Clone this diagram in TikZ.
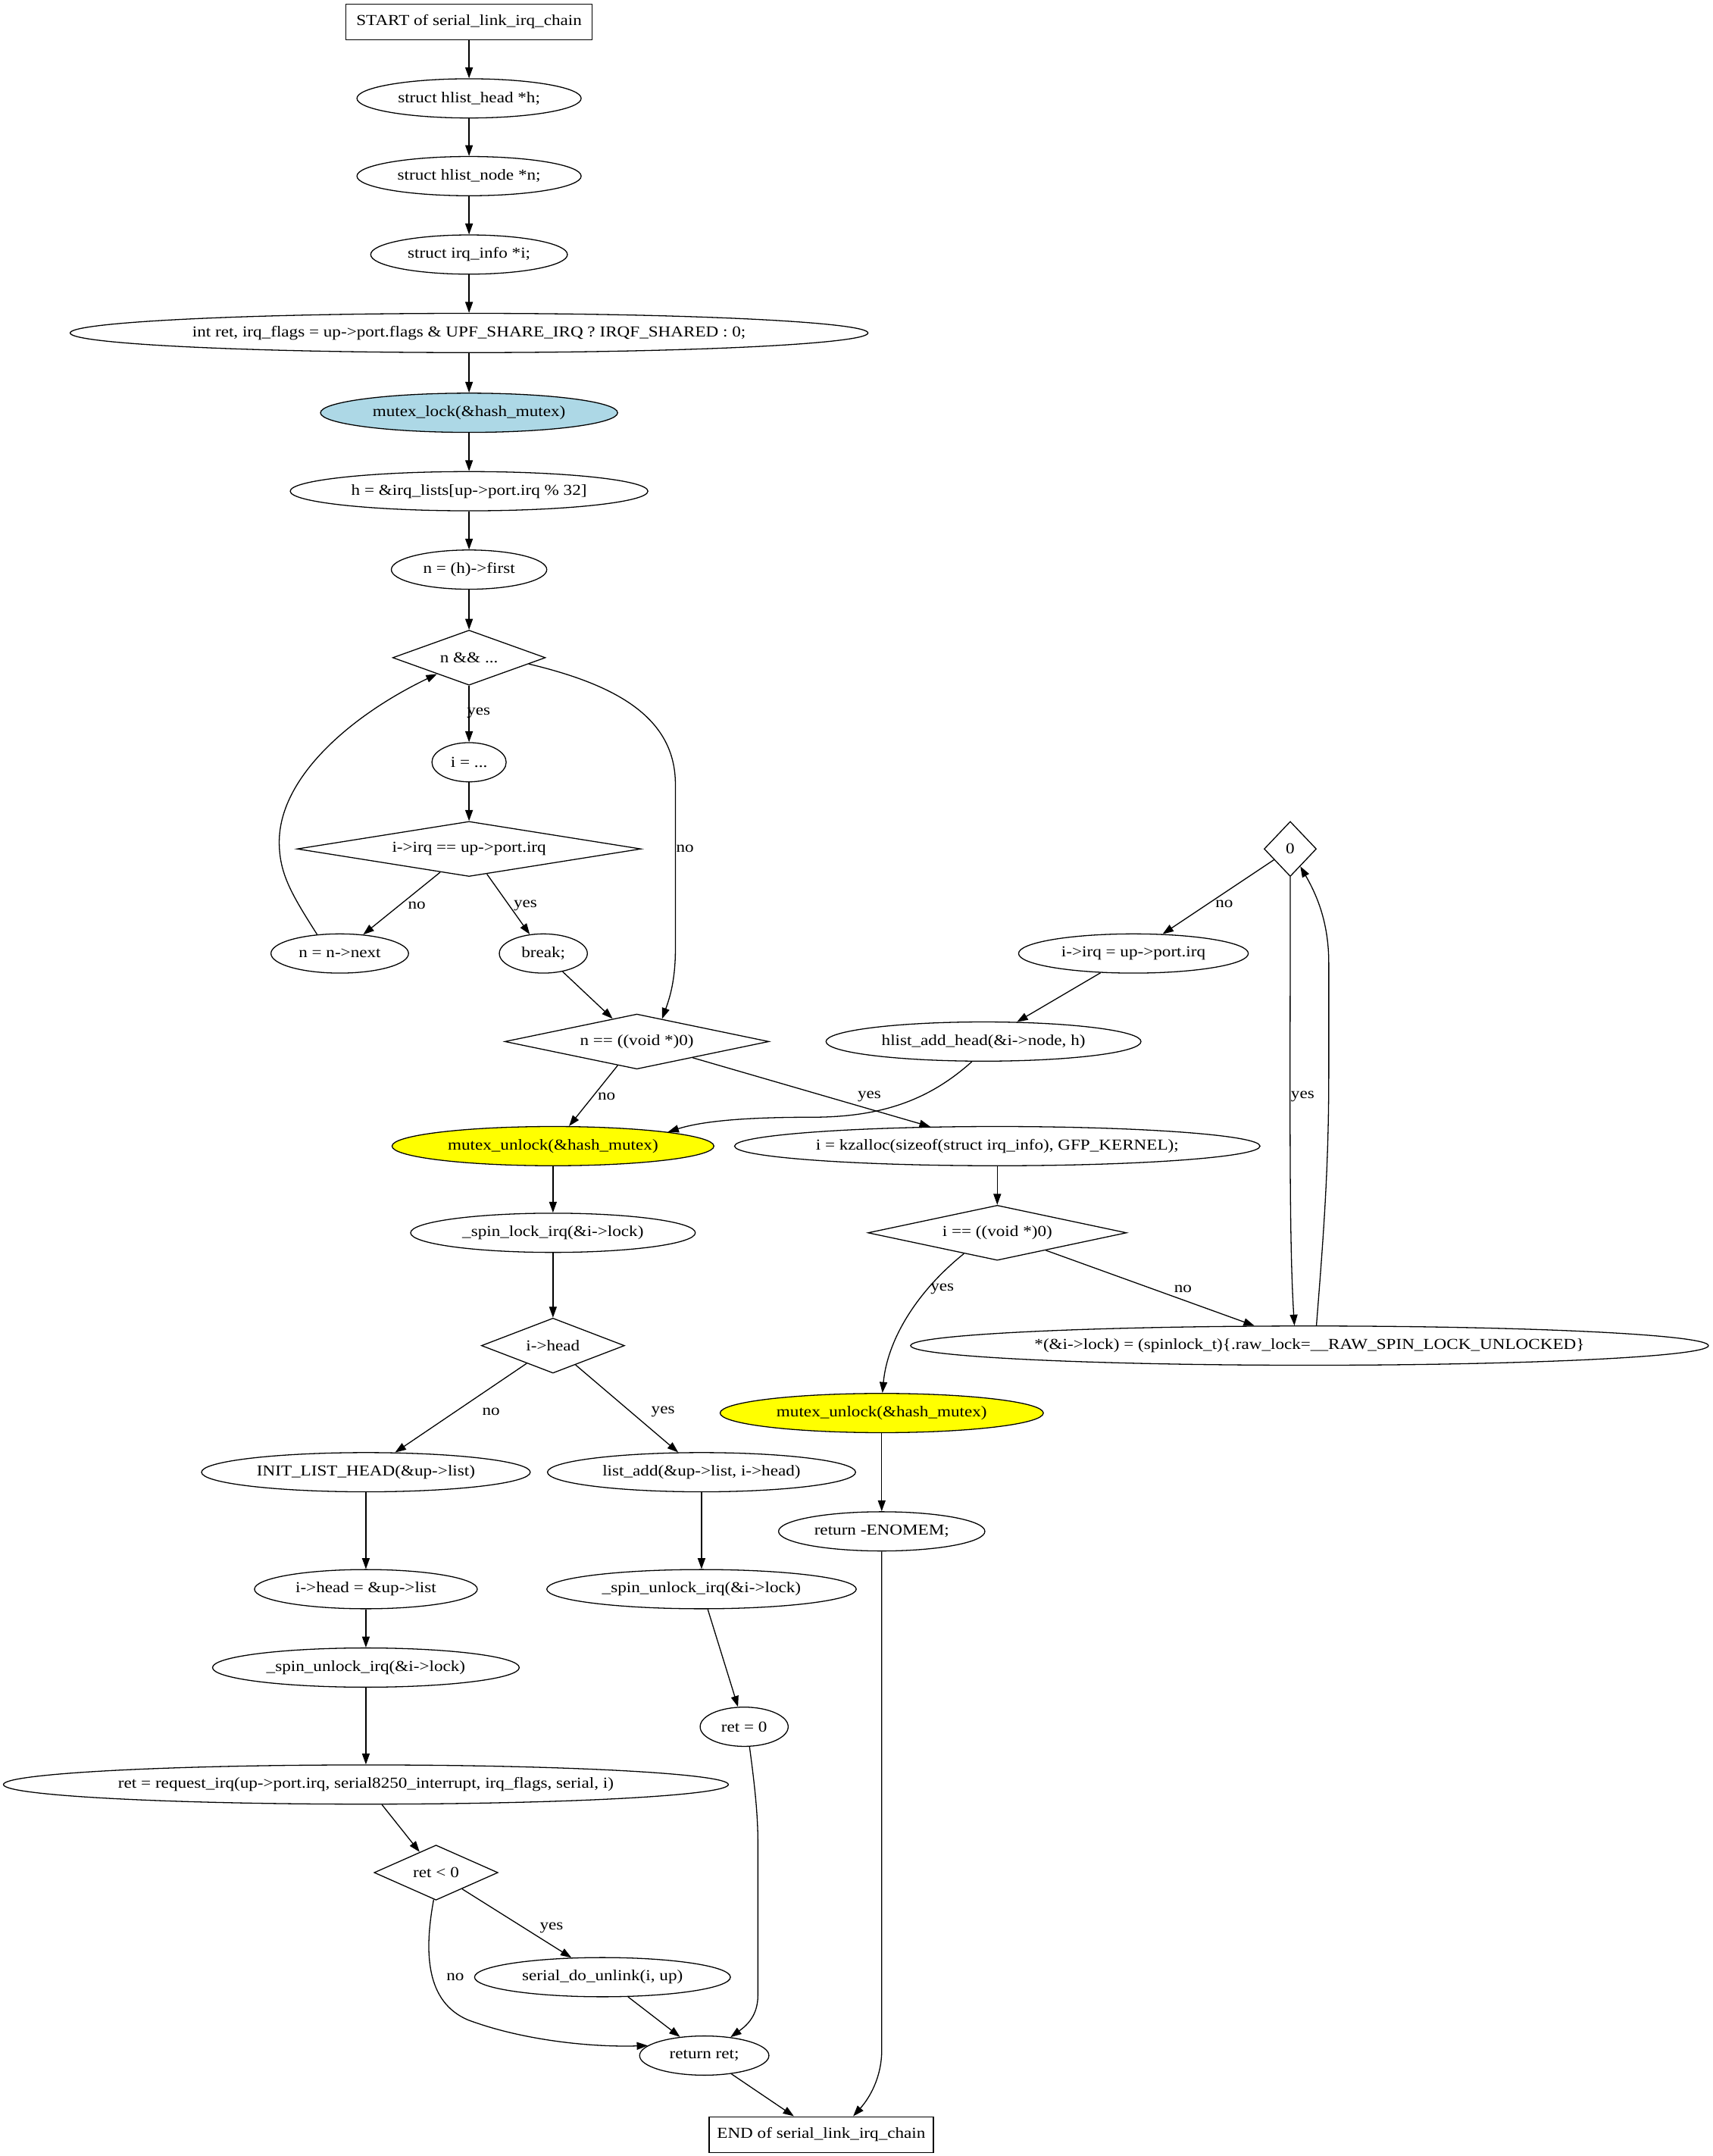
\documentclass[tikz,border=0pt]{standalone}
\usepackage{fontspec}
\setmainfont{Liberation Serif}[FakeStretch=1.15]
\usetikzlibrary{shapes.geometric,arrows.meta}
\definecolor{lblue}{HTML}{ADD8E6}
\definecolor{yel}{HTML}{FFFF00}
\newcommand{\zw}[1]{\makebox[0pt][c]{#1}}
\tikzset{
  basenode/.style={draw, line width=0.9pt, font=\fontsize{14}{16}\selectfont, inner sep=0pt},
  ellnode/.style={basenode, ellipse, minimum height=36pt, minimum width=#1*1.2632pt},
  dianode/.style 2 args={basenode, diamond, minimum width=#1*1.2632pt, minimum height=#2*1.2632pt},
  boxnode/.style={basenode, rectangle, minimum height=33pt, minimum width=#1*1.2632pt},
  arr/.style={-{Triangle[length=10pt,width=7pt]}, line width=0.9pt},
  lbl/.style={font=\fontsize{14}{16}\selectfont, inner sep=0pt}
}
\begin{document}
\begin{tikzpicture}[x=1.2632pt, y=-1.2632pt]
\useasboundingbox (0,0) rectangle (1245,1567);
% nodes
\node[boxnode=179] (start) at (341,16) {\zw{START of serial\_link\_irq\_chain}};
\node[ellnode=163] (n1) at (341,71.5) {\zw{struct hlist\_head *h;}};
\node[ellnode=163] (n2) at (341,128) {\zw{struct hlist\_node *n;}};
\node[ellnode=143] (n3) at (341,185) {\zw{struct irq\_info *i;}};
\node[ellnode=580] (n4) at (341,242) {\zw{int ret, irq\_flags = up->port.flags \& UPF\_SHARE\_IRQ ? IRQF\_SHARED : 0;}};
\node[ellnode=216, fill=lblue] (n5) at (341,300) {\zw{mutex\_lock(\&hash\_mutex)}};
\node[ellnode=260] (n6) at (341,357) {\zw{h = \&irq\_lists[up->port.irq \% 32]}};
\node[ellnode=113] (n7) at (341,414) {\zw{n = (h)->first}};
\node[dianode={111}{40}] (d1) at (341,478) {\zw{n \&\& ...}};
\node[ellnode=54] (n8) at (341,554) {\zw{i = ...}};
\node[dianode={250}{40}] (d2) at (341,617) {\zw{i->irq == up->port.irq}};
\node[ellnode=100] (n9) at (247,693) {\zw{n = n->next}};
\node[ellnode=64] (n10) at (395,693) {\zw{break;}};
\node[dianode={192}{40}] (d3) at (463,757) {\zw{n == ((void *)0)}};
\node[ellnode=234, fill=yel] (n11) at (402,833) {\zw{mutex\_unlock(\&hash\_mutex)}};
\node[ellnode=382] (n12) at (725,833) {\zw{i = kzalloc(sizeof(struct irq\_info), GFP\_KERNEL);}};
\node[ellnode=207] (n13) at (402,896) {\zw{\_spin\_lock\_irq(\&i->lock)}};
\node[dianode={188}{40}] (d4) at (725,896) {\zw{i == ((void *)0)}};
\node[dianode={38}{40}] (d0) at (938,617) {\zw{0}};
\node[ellnode=167] (n14) at (824,693) {\zw{i->irq = up->port.irq}};
\node[ellnode=229] (n15) at (715,757) {\zw{hlist\_add\_head(\&i->node, h)}};
\node[ellnode=580] (n16) at (952,978) {\zw{*(\&i->lock) = (spinlock\_t)\{.raw\_lock=\_\_RAW\_SPIN\_LOCK\_UNLOCKED\}}};
\node[dianode={104}{40}] (d5) at (402,978) {\zw{i->head}};
\node[ellnode=235, fill=yel] (n17) at (641,1027) {\zw{mutex\_unlock(\&hash\_mutex)}};
\node[ellnode=239] (n18) at (266,1070) {\zw{INIT\_LIST\_HEAD(\&up->list)}};
\node[ellnode=224] (n19) at (510,1070) {\zw{list\_add(\&up->list, i->head)}};
\node[ellnode=150] (n20) at (641,1113) {\zw{return -ENOMEM;}};
\node[ellnode=162] (n21) at (266,1155) {\zw{i->head = \&up->list}};
\node[ellnode=225] (n22) at (510,1155) {\zw{\_spin\_unlock\_irq(\&i->lock)}};
\node[ellnode=223] (n23) at (266,1212) {\zw{\_spin\_unlock\_irq(\&i->lock)}};
\node[ellnode=64] (n24) at (541,1255) {\zw{ret = 0}};
\node[ellnode=527] (n25) at (266,1297) {\zw{ret = request\_irq(up->port.irq, serial8250\_interrupt, irq\_flags, serial, i)}};
\node[dianode={90}{40}] (d6) at (317,1361) {\zw{ret < 0}};
\node[ellnode=186] (n26) at (438,1437) {\zw{serial\_do\_unlink(i, up)}};
\node[ellnode=94] (n27) at (512,1494) {\zw{return ret;}};
\node[boxnode=163] (end) at (597,1551.5) {\zw{END of serial\_link\_irq\_chain}};
% edges
\draw[arr] (start) -- (n1);
\draw[arr] (n1) -- (n2);
\draw[arr] (n2) -- (n3);
\draw[arr] (n3) -- (n4);
\draw[arr] (n4) -- (n5);
\draw[arr] (n5) -- (n6);
\draw[arr] (n6) -- (n7);
\draw[arr] (n7) -- (d1);
\draw[arr] (d1) -- (n8);
\draw[arr] (d1.-6) .. controls (445,497) and (491,520) .. (491,570) -- (491,690) .. controls (491,712) and (487,725) .. (d3.42);
\draw[arr] (n8) -- (d2);
\draw[arr] (d2) -- (n9);
\draw[arr] (d2) -- (n10);
\draw[arr] (n9.140) .. controls (212,650) and (203,635) .. (203,612) .. controls (203,565) and (255,520) .. (d1.207);
\draw[arr] (n10) -- (d3);
\draw[arr] (d3) -- (n11);
\draw[arr] (d3) -- (n12);
\draw[arr] (n15.240) .. controls (675,800) and (640,812) .. (590,812) .. controls (540,812) and (510,815) .. (n11.7.5);
\draw[arr] (n11) -- (n13);
\draw[arr] (n13) -- (d5);
\draw[arr] (n12) -- (d4);
\draw[arr] (d4.212) .. controls (665,940) and (645,975) .. (n17.88);
\draw[arr] (d4) -- (n16);
\draw[arr] (d0) -- (n14);
\draw[arr] (d0.south) .. controls (938,800) and (937,900) .. (n16.127);
\draw[arr] (n16.71) .. controls (962,900) and (966,850) .. (966,780) -- (966,700) .. controls (966,670) and (957,650) .. (d0.-60);
\draw[arr] (n14) -- (n15);
\draw[arr] (d5) -- (n18);
\draw[arr] (d5) -- (n19);
\draw[arr] (n17) -- (n20);
\draw[arr] (n20.south) -- (641,1490) .. controls (641,1510) and (632,1525) .. (end.30);
\draw[arr] (n18) -- (n21);
\draw[arr] (n19) -- (n22);
\draw[arr] (n21) -- (n23);
\draw[arr] (n22) -- (n24);
\draw[arr] (n24.-75) .. controls (549,1300) and (551,1320) .. (551,1340) -- (551,1450) .. controls (551,1465) and (543,1472) .. (n27.35);
\draw[arr] (n23) -- (n25);
\draw[arr] (n25) -- (d6);
\draw[arr] (d6) -- (n26);
\draw[arr] (d6.-95) .. controls (308,1420) and (310,1455) .. (340,1468) .. controls (380,1483) and (430,1488) .. (n27.170);
\draw[arr] (n26) -- (n27);
\draw[arr] (n27) -- (end);
% labels
\node[lbl] (l1) at (348,518) {yes};
\node[lbl] (l2) at (498,617) {no};
\node[lbl] (l3) at (303,658) {no};
\node[lbl] (l4) at (382,658) {yes};
\node[lbl] (l5) at (441,797) {no};
\node[lbl] (l6) at (632,797) {yes};
\node[lbl] (l7) at (685,937) {yes};
\node[lbl] (l8) at (860,937) {no};
\node[lbl] (l9) at (890,657) {no};
\node[lbl] (l10) at (947,797) {yes};
\node[lbl] (l11) at (357,1026) {no};
\node[lbl] (l12) at (482,1026) {yes};
\node[lbl] (l13) at (401,1401) {yes};
\node[lbl] (l14) at (331,1437) {no};
\end{tikzpicture}
\end{document}
